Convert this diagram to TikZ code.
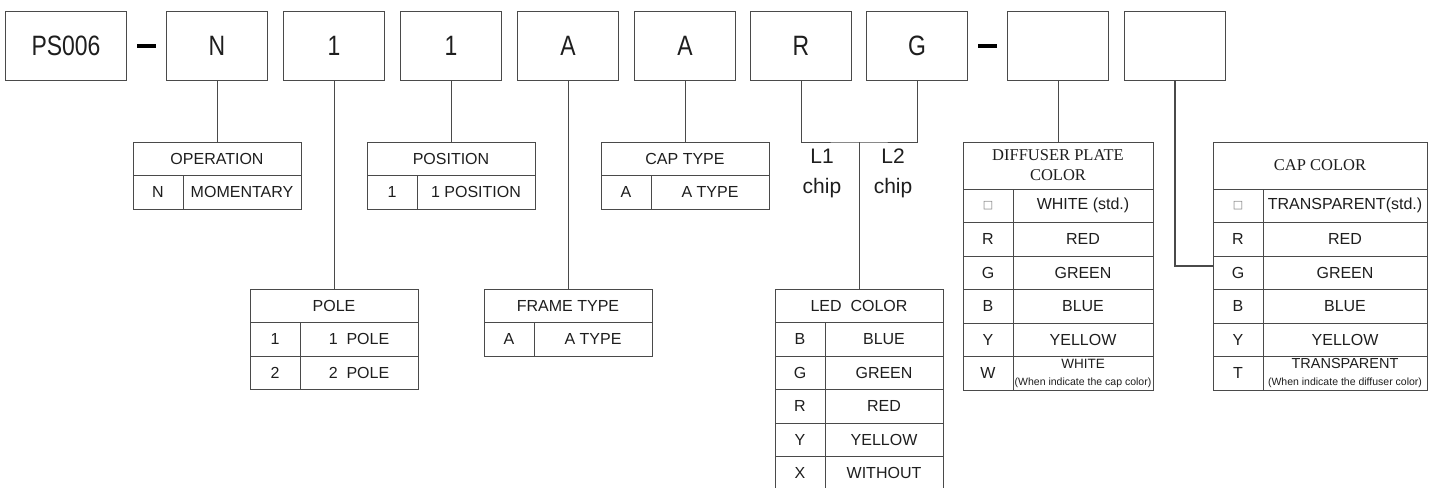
\documentclass[tikz,border=0pt]{standalone}
\usepackage{fontspec}
\setmainfont{Liberation Sans}
\newfontfamily\headserif{Liberation Serif}
\newfontfamily\symfont{DejaVu Sans}
\usetikzlibrary{positioning}

\definecolor{linegray}{HTML}{4A4A4A}
\definecolor{inkgray}{HTML}{1E1E1E}

\newcommand{\narrow}[1]{\scalebox{0.82}[1]{#1}}
\newcommand{\blank}{{\symfont\fontsize{11}{11}\selectfont\color{gray}□}}
% one row of a code table: name, cell above, key, value, table width
\newcommand{\entryrow}[5]{%
  \node[cell, minimum width=50pt] (#1k) at (#2.south west) {#3};
  \node[cell, minimum width=#5pt-50pt] (#1v) at (#1k.north east) {#4};}

\tikzset{
  codebox/.style={draw=linegray, line width=1pt, outer sep=0pt, inner sep=0pt,
    minimum width=101pt, minimum height=68pt, text=inkgray, font=\fontsize{28}{30}\selectfont},
  cell/.style={draw=linegray, line width=1pt, outer sep=0pt, inner sep=0pt, anchor=north west,
    minimum height=33.5pt, text=inkgray, align=center, font=\fontsize{16}{18}\selectfont},
  headcell/.style={cell, minimum height=47pt, font=\headserif\fontsize{16.5}{20}\selectfont},
  wire/.style={draw=linegray, line width=1pt},
  chiptext/.style={text=inkgray, align=center, font=\fontsize{21}{30}\selectfont}
}

\begin{document}
\begin{tikzpicture}[x=1pt, y=-1pt]
  \clip (0,0) rectangle (1442,487);
  \fill[white] (0,0) rectangle (1442,487);

  % code boxes
  \node[codebox, minimum width=121pt] (ps) at (66,46) {\narrow{PS006}};
  \node[codebox] (n) at (217,46) {\narrow{N}};
  \node[codebox] (p1) at (334,46) {\narrow{1}};
  \node[codebox] (s1) at (451,46) {\narrow{1}};
  \node[codebox] (fa) at (568,46) {\narrow{A}};
  \node[codebox] (ca) at (685,46) {\narrow{A}};
  \node[codebox] (r) at (801,46) {\narrow{R}};
  \node[codebox] (g) at (917,46) {\narrow{G}};
  \node[codebox] (dp) at (1058,46) {};
  \node[codebox] (cc) at (1175,46) {};
  \fill[black] (137,44) rectangle (156,48); % dashes
  \fill[black] (978,44) rectangle (997,48);

  % OPERATION
  \node[cell, minimum width=168pt] (op) at (133,142) {OPERATION};
  \entryrow{opn}{op}{N}{MOMENTARY}{168}
  % POSITION
  \node[cell, minimum width=168pt] (pos) at (367,142) {POSITION};
  \entryrow{posa}{pos}{1}{1 POSITION}{168}
  % CAP TYPE
  \node[cell, minimum width=168pt] (capt) at (601,142) {CAP TYPE};
  \entryrow{capta}{capt}{A}{A TYPE}{168}
  % POLE
  \node[cell, minimum width=168pt] (pole) at (250,289) {POLE};
  \entryrow{polea}{pole}{1}{1\ \ POLE}{168}
  \entryrow{poleb}{poleak}{2}{2\ \ POLE}{168}
  % FRAME TYPE
  \node[cell, minimum width=168pt] (frame) at (484,289) {FRAME TYPE};
  \entryrow{framea}{frame}{A}{A TYPE}{168}
  % LED COLOR
  \node[cell, minimum width=168pt] (led) at (775,289) {LED\ \ COLOR};
  \entryrow{leda}{led}{B}{BLUE}{168}
  \entryrow{ledb}{ledak}{G}{GREEN}{168}
  \entryrow{ledc}{ledbk}{R}{RED}{168}
  \entryrow{ledd}{ledck}{Y}{YELLOW}{168}
  \entryrow{lede}{leddk}{X}{WITHOUT}{168}
  % DIFFUSER PLATE COLOR
  \node[headcell, minimum width=190pt] (diff) at (963,142) {DIFFUSER PLATE\\COLOR};
  \entryrow{diffa}{diff}{\blank}{WHITE (std.)}{190}
  \entryrow{diffb}{diffak}{R}{RED}{190}
  \entryrow{diffc}{diffbk}{G}{GREEN}{190}
  \entryrow{diffd}{diffck}{B}{BLUE}{190}
  \entryrow{diffe}{diffdk}{Y}{YELLOW}{190}
  \entryrow{difff}{diffek}{W}{{\fontsize{13.5}{13}\selectfont WHITE}\\[-1pt]{\fontsize{10.5}{11}\selectfont (When indicate the cap color)}}{190}
  % CAP COLOR
  \node[headcell, minimum width=214pt] (capc) at (1213,142) {CAP COLOR};
  \entryrow{capca}{capc}{\blank}{TRANSPARENT(std.)}{214}
  \entryrow{capcb}{capcak}{R}{RED}{214}
  \entryrow{capcc}{capcbk}{G}{GREEN}{214}
  \entryrow{capcd}{capcck}{B}{BLUE}{214}
  \entryrow{capce}{capcdk}{Y}{YELLOW}{214}
  \entryrow{capcf}{capcek}{T}{{\fontsize{14.5}{13}\selectfont TRANSPARENT}\\[-1pt]{\fontsize{10.5}{11}\selectfont (When indicate the diffuser color)}}{214}

  % chip labels
  \node[chiptext] (l1) at (822,173) {L1\\chip};
  \node[chiptext] (l2) at (893,173) {L2\\chip};
  \coordinate (rg) at (859,142);

  % connectors
  \draw[wire] (n.south) -- (op.north);
  \draw[wire] (p1.south) -- (pole.north);
  \draw[wire] (s1.south) -- (pos.north);
  \draw[wire] (fa.south) -- (frame.north);
  \draw[wire] (ca.south) -- (capt.north);
  \draw[wire] (r.south) |- (rg) -| (g.south);
  \draw[wire] (rg) -- (led.north);
  \draw[wire] (dp.south) -- (diff.north);
  \draw[wire, line width=1.6pt] (cc.south) |- ([yshift=7pt]capcck.west);
\end{tikzpicture}
\end{document}
